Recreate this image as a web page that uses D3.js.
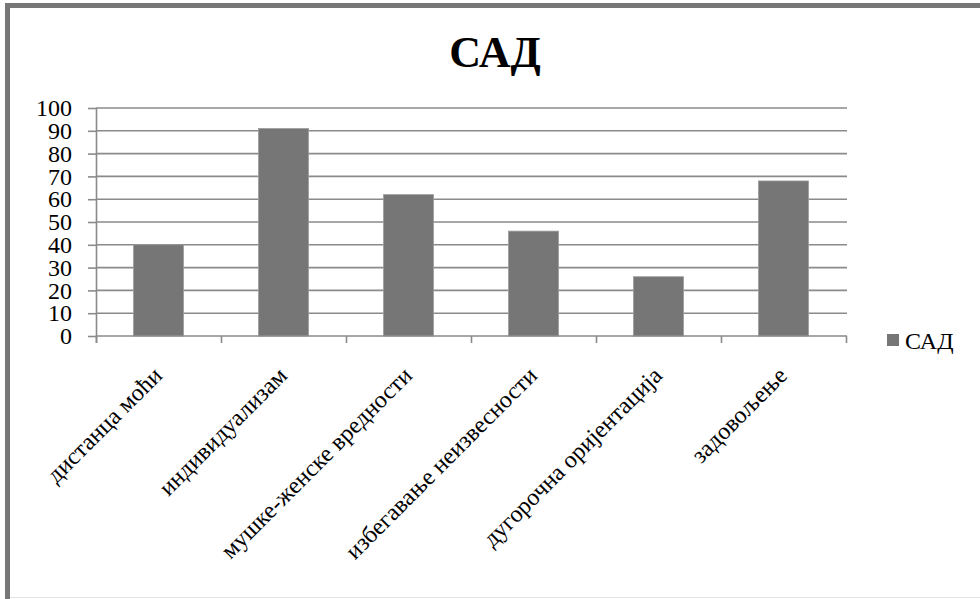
<!DOCTYPE html>
<html>
<head>
<meta charset="utf-8">
<script src="https://cdn.jsdelivr.net/npm/d3@7"></script>
<style>
  html, body { margin: 0; padding: 0; background: #fff; }
  svg, svg text { font-family: "Liberation Serif", "Times New Roman", serif; }
  svg { display: block; }
</style>
</head>
<body>
<svg id="chart" width="980" height="599"></svg>
<script>
// Hofstede dimensions for the USA
const title = "САД";
const seriesName = "САД";
const categories = [
  "дистанца моћи",
  "индивидуализам",
  "мушке-женске вредности",
  "избегавање неизвесности",
  "дугорочна оријентација",
  "задовољење"
];
const values = [40, 91, 62, 46, 26, 68];
const yTicks = [0, 10, 20, 30, 40, 50, 60, 70, 80, 90, 100];

const svg = d3.select("#chart");
const W = 980, H = 599;

const plot = { left: 96, right: 846, top: 108, bottom: 336 };
const barColor = "#767676";
const gridColor = "#8a8a8a";
const serif = '"Liberation Serif", "Times New Roman", serif';

// outer frame
svg.append("rect").attr("x", 0).attr("y", 0).attr("width", W).attr("height", H).attr("fill", "#fff");
svg.append("line").attr("x1", 10).attr("x2", W).attr("y1", 597.5).attr("y2", 597.5)
  .attr("stroke", "#e4e4e4").attr("stroke-width", 1);
svg.append("rect").attr("x", 7.5).attr("y", 5.5).attr("width", W + 20).attr("height", H + 20)
  .attr("fill", "none").attr("stroke", "#777").attr("stroke-width", 5);

// title
svg.append("text").attr("x", 495).attr("y", 67)
  .attr("text-anchor", "middle").attr("font-size", 44).attr("font-weight", "bold")
  .style("font-family", serif)
  .attr("fill", "#000").text(title);

const x = d3.scaleBand().domain(categories).range([plot.left, plot.right]).padding(0);
const y = d3.scaleLinear().domain([0, 100]).range([plot.bottom, plot.top]);
const barW = x.bandwidth() * 0.4;

// horizontal gridlines
svg.append("g").selectAll("line").data(yTicks.filter(d => d > 0)).join("line")
  .attr("x1", plot.left).attr("x2", plot.right + 1)
  .attr("y1", d => y(d)).attr("y2", d => y(d))
  .attr("stroke", gridColor).attr("stroke-width", 1.6);

// bars
svg.append("g").selectAll("rect").data(categories).join("rect")
  .attr("x", d => x(d) + (x.bandwidth() - barW) / 2)
  .attr("width", barW)
  .attr("y", (d, i) => y(values[i]))
  .attr("height", (d, i) => y(0) - y(values[i]))
  .attr("fill", barColor)
  .attr("stroke", "#9c9c9c").attr("stroke-width", 0.8);

// y axis
const yAxis = svg.append("g").attr("transform", `translate(${plot.left},0)`)
  .call(d3.axisLeft(y).tickValues(yTicks).tickFormat(d3.format("d")).tickSize(8).tickPadding(16));
yAxis.attr("font-family", null).attr("font-size", null);
yAxis.select(".domain").attr("stroke", gridColor).attr("stroke-width", 1.6)
  .attr("d", `M0.5,${plot.top}V${plot.bottom + 7}`);
yAxis.selectAll(".tick line").attr("stroke", gridColor).attr("stroke-width", 1.6);
yAxis.selectAll(".tick text").attr("fill", "#000")
  .style("font-family", serif).style("font-size", "24px");

// x axis: line, boundary ticks and rotated category labels
const xAxis = svg.append("g").attr("transform", `translate(0,${plot.bottom})`)
  .call(d3.axisBottom(x).tickSize(0).tickPadding(0));
xAxis.attr("font-family", null).attr("font-size", null);
xAxis.select(".domain").attr("stroke", gridColor).attr("stroke-width", 1.6)
  .attr("d", `M${plot.left},0H${plot.right + 1}`);
xAxis.selectAll(".tick text")
  .attr("fill", "#000")
  .style("font-family", serif).style("font-size", "24px")
  .attr("text-anchor", "end")
  .attr("dy", 0)
  .attr("transform", "translate(5,41) rotate(-45)");
const bounds = categories.map(c => x(c)).concat([plot.right]);
xAxis.append("g").selectAll("line").data(bounds).join("line")
  .attr("x1", d => d + 0.5).attr("x2", d => d + 0.5)
  .attr("y1", 0).attr("y2", 7)
  .attr("stroke", gridColor).attr("stroke-width", 1.6);

// legend
const legend = svg.append("g").attr("transform", "translate(887,334)");
legend.append("rect").attr("width", 12).attr("height", 12).attr("fill", barColor);
legend.append("text").attr("x", 18).attr("y", 15).attr("fill", "#000")
  .style("font-family", serif).style("font-size", "24px")
  .text(seriesName);
</script>
</body>
</html>
